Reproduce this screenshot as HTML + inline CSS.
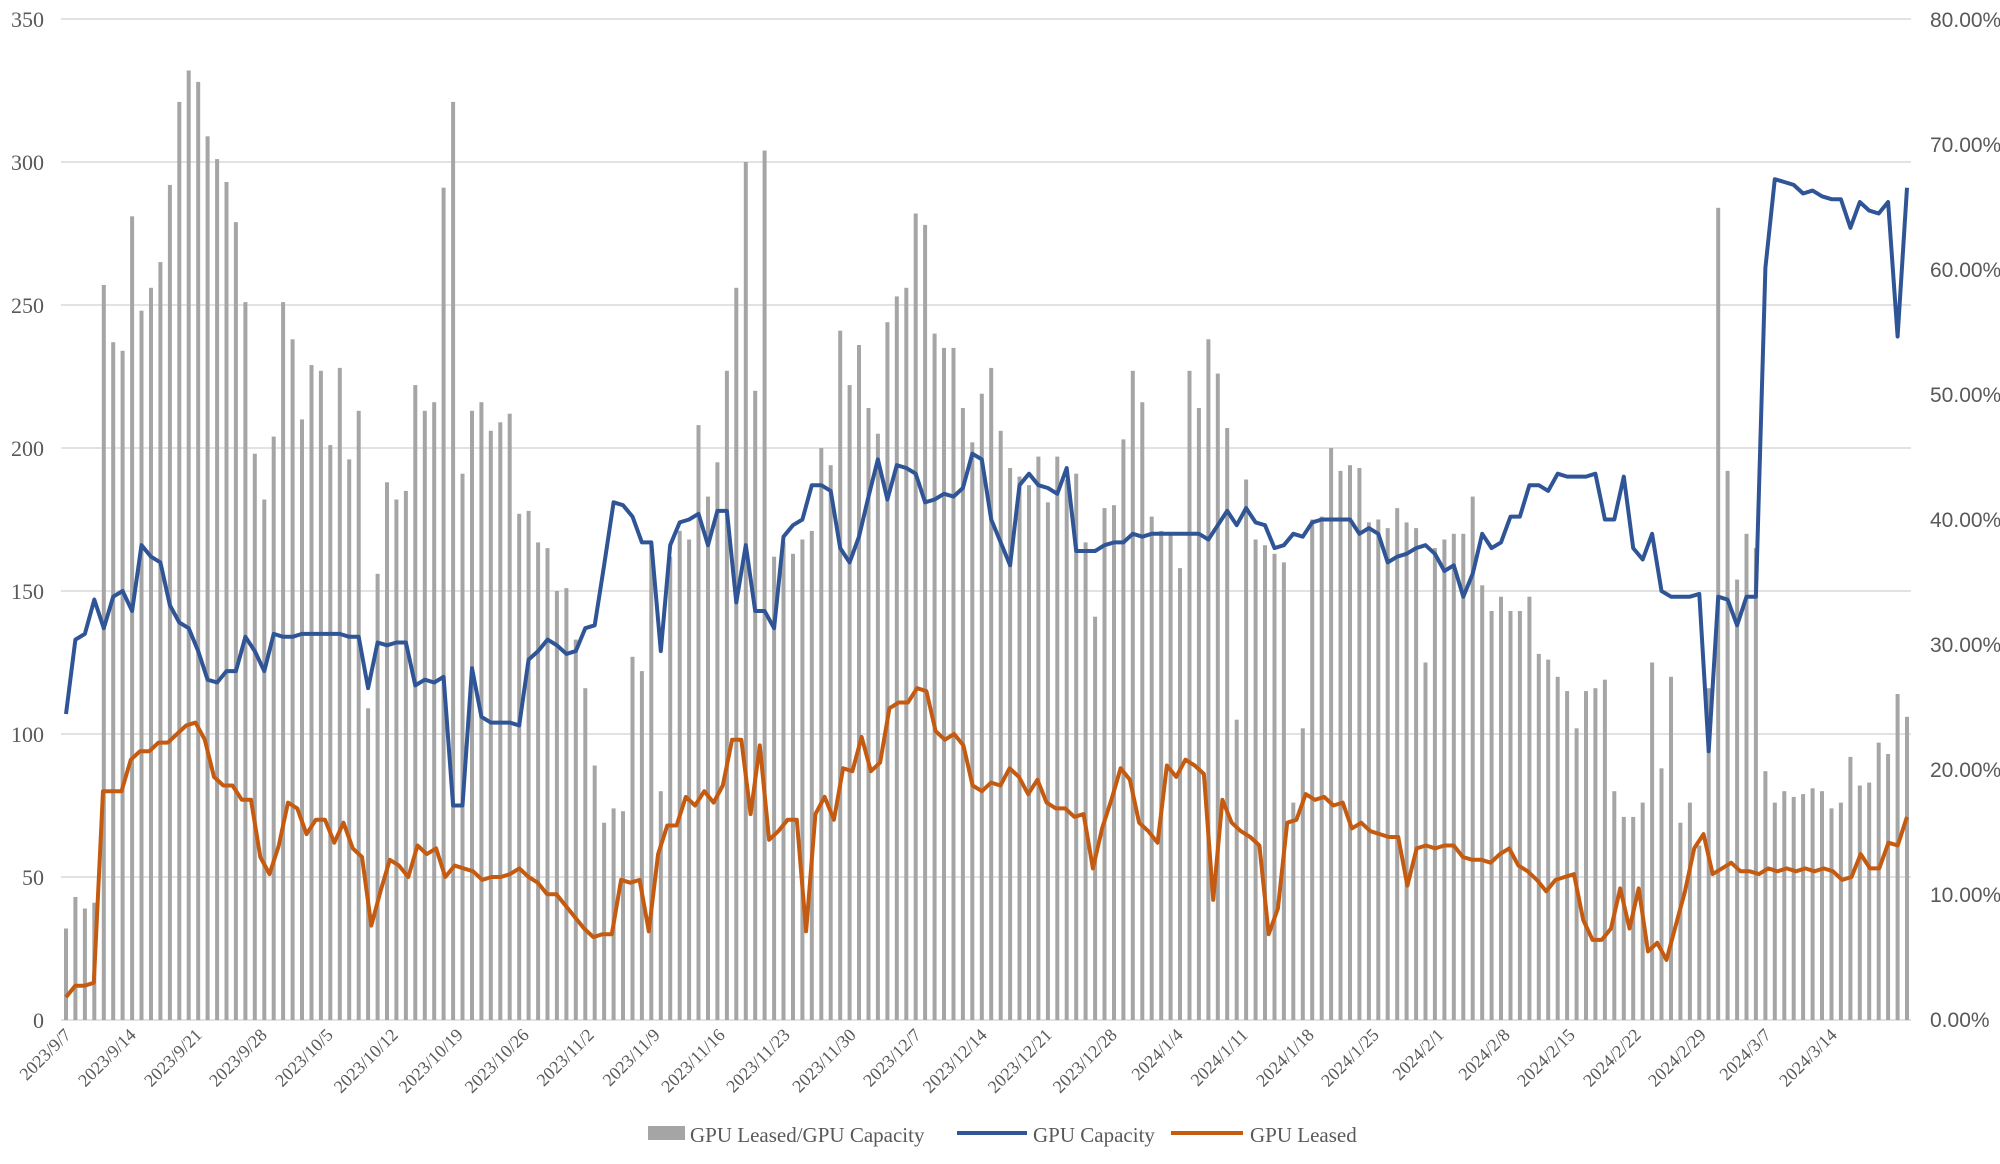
<!DOCTYPE html>
<html><head><meta charset="utf-8"><style>
html,body{margin:0;padding:0;background:#fff;}
svg{display:block;font-family:"Liberation Serif",serif;}
</style></head><body>
<svg id="c" width="2000" height="1164" xmlns="http://www.w3.org/2000/svg">
<g id="grid" stroke="#d9d9d9" stroke-width="1.5">
<line x1="61" x2="1911" y1="19" y2="19"/><line x1="61" x2="1911" y1="162" y2="162"/><line x1="61" x2="1911" y1="305" y2="305"/><line x1="61" x2="1911" y1="448" y2="448"/><line x1="61" x2="1911" y1="591" y2="591"/><line x1="61" x2="1911" y1="734" y2="734"/><line x1="61" x2="1911" y1="877" y2="877"/><line x1="61" x2="1911" y1="1020" y2="1020"/>
</g>
<g id="bars" fill="#a5a5a5"></g>
<polyline id="blue" fill="none" stroke="#2f5597" stroke-width="4" stroke-linejoin="round"/>
<polyline id="orange" fill="none" stroke="#c55a11" stroke-width="4" stroke-linejoin="round"/>
<g font-size="22" fill="#595959" text-anchor="end">
<text x="44" y="27">350</text><text x="44" y="170">300</text><text x="44" y="313">250</text><text x="44" y="456">200</text><text x="44" y="599">150</text><text x="44" y="742">100</text><text x="44" y="885">50</text><text x="44" y="1028">0</text>
</g>
<g font-size="21" fill="#595959" font-family="Liberation Sans, sans-serif">
<text x="1930" y="27">80.00%</text><text x="1930" y="152">70.00%</text><text x="1930" y="277">60.00%</text><text x="1930" y="402">50.00%</text><text x="1930" y="527">40.00%</text><text x="1930" y="652">30.00%</text><text x="1930" y="777">20.00%</text><text x="1930" y="902">10.00%</text><text x="1930" y="1027">0.00%</text>
</g>
<g font-size="18" fill="#595959" text-anchor="end">
<text transform="translate(72,1036) rotate(-45)">2023/9/7</text>
<text transform="translate(137,1036) rotate(-45)">2023/9/14</text>
<text transform="translate(203,1036) rotate(-45)">2023/9/21</text>
<text transform="translate(268,1036) rotate(-45)">2023/9/28</text>
<text transform="translate(334,1036) rotate(-45)">2023/10/5</text>
<text transform="translate(399,1036) rotate(-45)">2023/10/12</text>
<text transform="translate(464,1036) rotate(-45)">2023/10/19</text>
<text transform="translate(530,1036) rotate(-45)">2023/10/26</text>
<text transform="translate(595,1036) rotate(-45)">2023/11/2</text>
<text transform="translate(661,1036) rotate(-45)">2023/11/9</text>
<text transform="translate(726,1036) rotate(-45)">2023/11/16</text>
<text transform="translate(791,1036) rotate(-45)">2023/11/23</text>
<text transform="translate(857,1036) rotate(-45)">2023/11/30</text>
<text transform="translate(922,1036) rotate(-45)">2023/12/7</text>
<text transform="translate(988,1036) rotate(-45)">2023/12/14</text>
<text transform="translate(1053,1036) rotate(-45)">2023/12/21</text>
<text transform="translate(1118,1036) rotate(-45)">2023/12/28</text>
<text transform="translate(1184,1036) rotate(-45)">2024/1/4</text>
<text transform="translate(1249,1036) rotate(-45)">2024/1/11</text>
<text transform="translate(1315,1036) rotate(-45)">2024/1/18</text>
<text transform="translate(1380,1036) rotate(-45)">2024/1/25</text>
<text transform="translate(1445,1036) rotate(-45)">2024/2/1</text>
<text transform="translate(1511,1036) rotate(-45)">2024/2/8</text>
<text transform="translate(1576,1036) rotate(-45)">2024/2/15</text>
<text transform="translate(1642,1036) rotate(-45)">2024/2/22</text>
<text transform="translate(1707,1036) rotate(-45)">2024/2/29</text>
<text transform="translate(1772,1036) rotate(-45)">2024/3/7</text>
<text transform="translate(1838,1036) rotate(-45)">2024/3/14</text>
</g>
<g font-size="21" fill="#595959">
<rect x="648" y="1126" width="37" height="14" fill="#a5a5a5"/>
<text x="690" y="1142">GPU Leased/GPU Capacity</text>
<line x1="957" x2="1027" y1="1133" y2="1133" stroke="#2f5597" stroke-width="4"/>
<text x="1033" y="1142">GPU Capacity</text>
<line x1="1171" x2="1243" y1="1133" y2="1133" stroke="#c55a11" stroke-width="4"/>
<text x="1250" y="1142">GPU Leased</text>
</g>
</svg>
<script>
var bars=[32,43,39,41,257,237,234,281,248,256,265,292,321,332,328,309,301,293,279,251,198,182,204,251,238,210,229,227,201,228,196,213,109,156,188,182,185,222,213,216,291,321,191,213,216,206,209,212,177,178,167,165,150,151,133,116,89,69,74,73,127,122,167,80,162,171,168,208,183,195,227,256,300,220,304,162,167,163,168,171,200,194,241,222,236,214,205,244,253,256,282,278,240,235,235,214,202,219,228,206,193,190,187,197,181,197,189,191,167,141,179,180,203,227,216,176,171,170,158,227,214,238,226,207,105,189,168,166,163,160,76,102,175,176,200,192,194,193,174,175,172,179,174,172,125,165,168,170,170,183,152,143,148,143,143,148,128,126,120,115,102,115,116,119,80,71,71,76,125,88,120,69,76,61,116,284,192,154,170,165,87,76,80,78,79,81,80,74,76,92,82,83,97,93,114,106];
var blue=[107,133,135,147,137,148,150,143,166,162,160,145,139,137,129,119,118,122,122,134,129,122,135,134,134,135,135,135,135,135,134,134,116,132,131,132,132,117,119,118,120,75,75,123,106,104,104,104,103,126,129,133,131,128,129,137,138,159,181,180,176,167,167,129,166,174,175,177,166,178,178,146,166,143,143,137,169,173,175,187,187,185,165,160,169,183,196,182,194,193,191,181,182,184,183,186,198,196,175,167,159,187,191,187,186,184,193,164,164,164,166,167,167,170,169,170,170,170,170,170,170,168,173,178,173,179,174,173,165,166,170,169,174,175,175,175,175,170,172,170,160,162,163,165,166,163,157,159,148,156,170,165,167,176,176,187,187,185,191,190,190,190,191,175,175,190,165,161,170,150,148,148,148,149,94,148,147,138,148,148,263,294,293,292,289,290,288,287,287,277,286,283,282,286,239,291];
var orange=[8,12,12,13,80,80,80,91,94,94,97,97,100,103,104,98,85,82,82,77,77,57,51,61,76,74,65,70,70,62,69,60,57,33,45,56,54,50,61,58,60,50,54,53,52,49,50,50,51,53,50,48,44,44,40,36,32,29,30,30,49,48,49,31,58,68,68,78,75,80,76,82,98,98,72,96,63,66,70,70,31,72,78,70,88,87,99,87,90,109,111,111,116,115,101,98,100,96,82,80,83,82,88,85,79,84,76,74,74,71,72,53,67,77,88,84,69,66,62,89,85,91,89,86,42,77,69,66,64,61,30,39,69,70,79,77,78,75,76,67,69,66,65,64,64,47,60,61,60,61,61,57,56,56,55,58,60,54,52,49,45,49,50,51,35,28,28,32,46,32,46,24,27,21,33,45,60,65,51,53,55,52,52,51,53,52,53,52,53,52,53,52,49,50,58,53,53,62,61,71];
var X0=66,X1=1907;function Y(v){return 1020-v*1001/350;}
function pts(a){var s=[],n=a.length;for(var i=0;i<n;i++){s.push((X0+i*(X1-X0)/(n-1)).toFixed(1)+","+Y(a[i]).toFixed(1));}return s.join(" ");}
document.getElementById("blue").setAttribute("points",pts(blue));
document.getElementById("orange").setAttribute("points",pts(orange));
var g=document.getElementById("bars"),h="",n=bars.length;
for(var i=0;i<n;i++){var x=X0+i*(X1-X0)/(n-1);var y=Y(bars[i]);h+='<rect x="'+(x-2).toFixed(1)+'" y="'+y.toFixed(1)+'" width="4" height="'+(1020-y).toFixed(1)+'"/>';}
g.innerHTML=h;
</script>
</body></html>
